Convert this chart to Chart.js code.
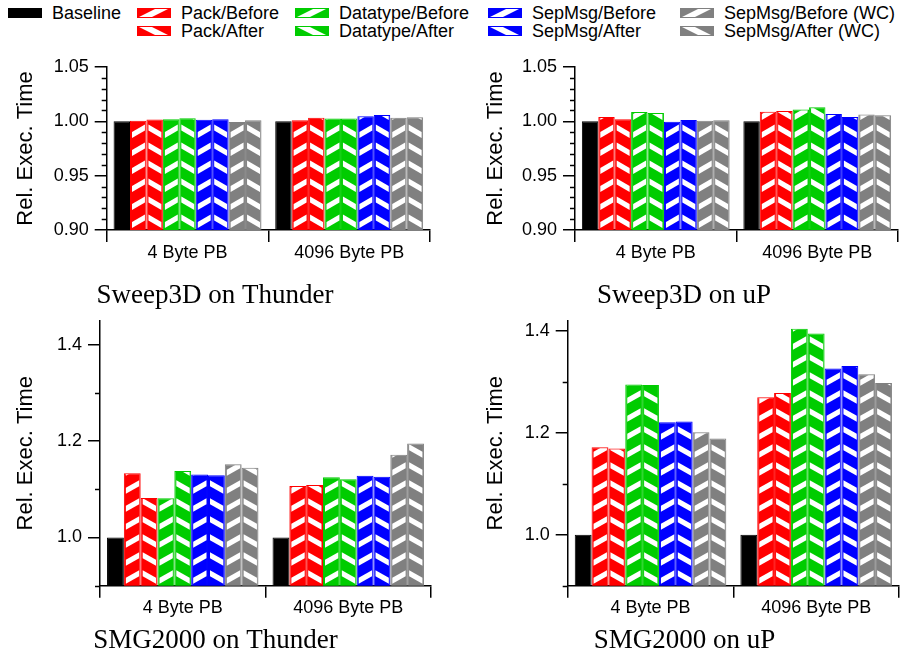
<!DOCTYPE html>
<html>
<head>
<meta charset="utf-8">
<script src="https://cdn.jsdelivr.net/npm/chart.js@4.4.0/dist/chart.umd.min.js"></script>
<style>
  body { margin: 0; background: #fff; width: 904px; height: 659px; position: relative; overflow: hidden;
         font-family: "Liberation Sans", Arial, sans-serif; }
  .panel { position: absolute; }
  .lg { position: absolute; font-size: 18px; line-height: 20px; height: 20px; color: #000; white-space: nowrap; }
  .sw { position: absolute; }
</style>
</head>
<body>
<div id="legend"></div>
<div class="panel" style="left:0px;top:40px"><canvas id="sweepThunderChart" width="452" height="280"></canvas></div>
<div class="panel" style="left:470px;top:40px"><canvas id="sweepUpChart" width="434" height="280"></canvas></div>
<div class="panel" style="left:0px;top:300px"><canvas id="smgThunderChart" width="452" height="359"></canvas></div>
<div class="panel" style="left:470px;top:300px"><canvas id="smgUpChart" width="434" height="359"></canvas></div>
<script>
const groups = ['4 Byte PB', '4096 Byte PB'];
const seriesNames = ['Baseline', 'Pack/Before', 'Pack/After', 'Datatype/Before', 'Datatype/After',
  'SepMsg/Before', 'SepMsg/After', 'SepMsg/Before (WC)', 'SepMsg/After (WC)'];
const seriesColors = ['#000000', '#ff0000', '#ff0000', '#00cc00', '#00cc00', '#0000ff', '#0000ff', '#808080', '#808080'];
const seriesHatch = [null, '/', '\\', '/', '\\', '/', '\\', '/', '\\'];

// one row per series: [4 Byte PB, 4096 Byte PB]
const sweepThunder = [
  [1.000, 1.000],
  [1.0006, 1.001],
  [1.0018, 1.0034],
  [1.002, 1.0025],
  [1.0028, 1.0025],
  [1.0015, 1.0046],
  [1.002, 1.0058],
  [0.9995, 1.0034],
  [1.001, 1.0037]
];
const sweepUp = [
  [1.000, 1.000],
  [1.004, 1.0089],
  [1.002, 1.0095],
  [1.0086, 1.011],
  [1.0077, 1.0129],
  [0.9997, 1.0067],
  [1.0012, 1.004],
  [1.0006, 1.0064],
  [1.0009, 1.0055]
];
const smgThunder = [
  [1.000, 1.000],
  [1.1336, 1.107],
  [1.082, 1.109],
  [1.0815, 1.125],
  [1.138, 1.121],
  [1.131, 1.128],
  [1.129, 1.126],
  [1.152, 1.172],
  [1.145, 1.195]
];
const smgUp = [
  [1.000, 1.000],
  [1.1716, 1.270],
  [1.169, 1.278],
  [1.295, 1.404],
  [1.294, 1.395],
  [1.2206, 1.326],
  [1.222, 1.331],
  [1.201, 1.315],
  [1.189, 1.2976]
];

const minorTop = [0.91, 0.92, 0.93, 0.94, 0.96, 0.97, 0.98, 0.99, 1.01, 1.02, 1.03, 1.04];
const minorBottom = [0.9, 1.1, 1.3];

Chart.defaults.font.family = '"Liberation Sans", Arial, sans-serif';
Chart.defaults.color = '#000';

function drawDashes(ctx, dir, l, r, top, yStart) {
  // white slanted dashes, as in the printed hatch
  const x0 = l + 1, x1 = r - 0.5;
  const rise = 7.5, thick = 6;
  for (let yy = yStart; yy > top - 20; yy -= 18) {
    ctx.beginPath();
    if (dir === '/') {
      ctx.moveTo(x0, yy); ctx.lineTo(x1, yy - rise); ctx.lineTo(x1, yy - rise - thick); ctx.lineTo(x0, yy - thick);
    } else {
      ctx.moveTo(x0, yy - rise); ctx.lineTo(x1, yy); ctx.lineTo(x1, yy - thick); ctx.lineTo(x0, yy - rise - thick);
    }
    ctx.closePath();
    ctx.fill();
  }
}

const hatchPlugin = {
  id: 'hatch',
  afterDatasetsDraw(chart) {
    const ctx = chart.ctx, area = chart.chartArea;
    chart.data.datasets.forEach((ds, i) => {
      const dir = seriesHatch[i];
      if (!dir) return;
      chart.getDatasetMeta(i).data.forEach(bar => {
        const {x, y, base, width} = bar.getProps(['x', 'y', 'base', 'width'], true);
        const l = x - width / 2 + 1, r = x + width / 2 - 1;
        const top = Math.max(y + 1, area.top), bottom = Math.min(base - 1, area.bottom);
        if (bottom <= top) return;
        ctx.save();
        ctx.beginPath();
        ctx.rect(l, top, r - l, bottom - top);
        ctx.clip();
        ctx.fillStyle = '#fff';
        drawDashes(ctx, dir, l, r, top, area.bottom - 2);
        ctx.restore();
      });
    });
  }
};

const minorTicks = {
  id: 'minorTicks',
  afterDraw(chart, args, opts) {
    const s = chart.scales.y, ctx = chart.ctx;
    ctx.save();
    ctx.strokeStyle = '#000';
    ctx.lineWidth = 1.5;
    opts.values.forEach(v => {
      const py = Math.round(s.getPixelForValue(v)) + 0.5;
      ctx.beginPath();
      ctx.moveTo(s.right - 5, py);
      ctx.lineTo(s.right, py);
      ctx.stroke();
    });
    ctx.restore();
  }
};

function makeChart(id, values, cfg) {
  return new Chart(document.getElementById(id), {
    type: 'bar',
    data: {
      labels: groups,
      datasets: seriesNames.map((name, i) => ({
        label: name,
        data: values[i],
        backgroundColor: seriesColors[i],
        borderColor: seriesColors[i],
        borderWidth: 1,
        categoryPercentage: 0.915,
        barPercentage: 1
      }))
    },
    options: {
      responsive: false,
      animation: false,
      devicePixelRatio: 1,
      layout: { padding: cfg.padding },
      plugins: {
        legend: { display: false },
        tooltip: { enabled: false },
        title: {
          display: true, position: 'bottom', text: cfg.title, color: '#000',
          font: { family: '"Liberation Serif", "Times New Roman", serif', size: 27, weight: 'normal', lineHeight: 1.2 },
          padding: cfg.titlePad
        },
        minorTicks: { values: cfg.minor }
      },
      scales: {
        x: {
          grid: { offset: true, drawOnChartArea: false, tickLength: 12, color: '#000', lineWidth: 1.5 },
          border: { color: '#000', width: 1.5 },
          ticks: { color: '#000', font: { size: 18 }, padding: 0 },
          afterFit: s => { s.height = cfg.xh; }
        },
        y: {
          min: cfg.min, max: cfg.max, beginAtZero: false,
          grid: { drawOnChartArea: false, tickLength: 12, color: '#000', lineWidth: 1.5 },
          border: { color: '#000', width: 1.5 },
          ticks: {
            stepSize: cfg.step, includeBounds: false, color: '#000', font: { size: 18 }, padding: 6,
            callback: v => Number(v).toFixed(cfg.dec)
          },
          title: {
            display: true, text: 'Rel. Exec. Time', color: '#000',
            font: { size: 22, lineHeight: 1.2 }, padding: { top: 13, bottom: 0 }
          },
          afterFit: s => { s.width = cfg.yw; }
        }
      }
    },
    plugins: [hatchPlugin, minorTicks]
  });
}

makeChart('sweepThunderChart', sweepThunder, {
  title: 'Sweep3D on Thunder', min: 0.9, max: 1.05, step: 0.05, dec: 2, minor: minorTop,
  padding: { top: 27, right: 22, bottom: 0, left: 0 }, yw: 106.7, xh: 40,
  titlePad: { top: 9.8, bottom: 7.8 }
});
makeChart('sweepUpChart', sweepUp, {
  title: 'Sweep3D on uP', min: 0.9, max: 1.05, step: 0.05, dec: 2, minor: minorTop,
  padding: { top: 27, right: 6, bottom: 0, left: 0 }, yw: 105, xh: 40,
  titlePad: { top: 9.8, bottom: 7.8 }
});
makeChart('smgThunderChart', smgThunder, {
  title: 'SMG2000 on Thunder', min: 0.9, max: 1.45, step: 0.2, dec: 1, minor: minorBottom,
  padding: { top: 20.7, right: 21, bottom: 0, left: 0 }, yw: 100, xh: 36,
  titlePad: { top: 3.5, bottom: 1.4 }
});
makeChart('smgUpChart', smgUp, {
  title: 'SMG2000 on uP', min: 0.9, max: 1.42, step: 0.2, dec: 1, minor: minorBottom,
  padding: { top: 20.7, right: 5, bottom: 0, left: 0 }, yw: 97.7, xh: 36,
  titlePad: { top: 3.5, bottom: 1.4 }
});

// legend: baseline alone, then each method in a column of two rows
const legendCols = [8, 137, 295, 488, 680];
const legend = document.getElementById('legend');
seriesNames.forEach((name, i) => {
  const col = i === 0 ? 0 : Math.ceil(i / 2);
  const row = i === 0 ? 0 : (i - 1) % 2;
  const cx = legendCols[col], cy = row === 0 ? 13 : 31;
  const sw = document.createElement('canvas');
  sw.className = 'sw';
  sw.width = 34; sw.height = 10;
  sw.style.left = cx + 'px';
  sw.style.top = (cy - 5) + 'px';
  const g = sw.getContext('2d');
  g.fillStyle = seriesColors[i];
  g.fillRect(0, 0, 34, 10);
  if (seriesHatch[i]) {
    g.fillStyle = '#fff';
    g.beginPath();
    if (seriesHatch[i] === '/') {
      g.moveTo(2, 9); g.lineTo(15, 9); g.lineTo(31, 1); g.lineTo(18, 1);
    } else {
      g.moveTo(2, 1); g.lineTo(15, 1); g.lineTo(31, 9); g.lineTo(18, 9);
    }
    g.closePath();
    g.fill();
  }
  legend.appendChild(sw);
  const t = document.createElement('div');
  t.className = 'lg';
  t.textContent = name;
  t.style.left = (cx + 44) + 'px';
  t.style.top = (cy - 10) + 'px';
  legend.appendChild(t);
});
</script>
</body>
</html>
